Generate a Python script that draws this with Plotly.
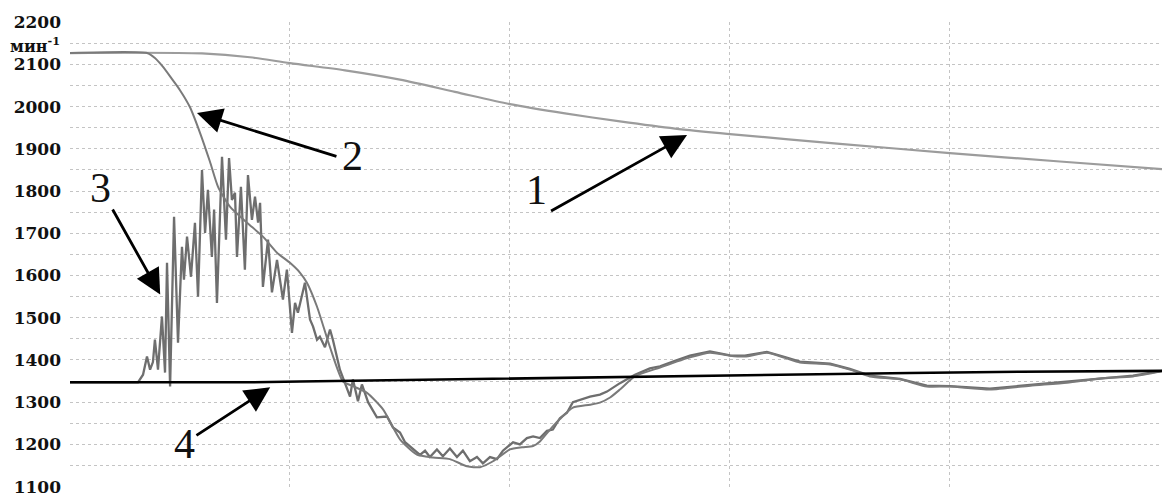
import plotly.graph_objects as go

# Time axis in seconds, speed in min^-1
# Curve 1
t1 = [0.000, 0.600, 0.818, 1.000, 1.250, 1.500, 1.750, 2.000, 2.250, 2.500,
      2.750, 3.000, 3.500, 4.000, 4.500, 4.964]
n1 = [2127, 2126, 2117, 2103, 2086, 2064, 2035, 2006, 1984, 1965,
      1948, 1935, 1912, 1890, 1870, 1852]

# Curve 2
t2 = [0.000, 0.350, 0.386, 0.423, 0.464, 0.500, 0.545, 0.591, 0.636, 0.673,
      0.727, 0.805, 0.877, 0.941, 1.000, 1.045, 1.077, 1.123, 1.182, 1.241,
      1.286, 1.350, 1.423, 1.500, 1.577, 1.650, 1.727, 1.805, 1.864, 1.923,
      2.000, 2.055, 2.105, 2.136, 2.182, 2.227, 2.286, 2.364, 2.409, 2.455,
      2.500, 2.568, 2.682, 2.818, 2.909, 3.000, 3.068, 3.168, 3.250, 3.318,
      3.455, 3.545, 3.636, 3.773, 3.895, 4.000, 4.182, 4.364, 4.532, 4.682,
      4.832, 4.964]
n2 = [2127, 2127, 2115, 2094, 2065, 2039, 1999, 1938, 1870, 1810,
      1763, 1725, 1692, 1654, 1630, 1607, 1583, 1526, 1430, 1349,
      1338, 1322, 1283, 1212, 1176, 1169, 1165, 1148, 1146, 1160,
      1188, 1193, 1196, 1207, 1235, 1260, 1287, 1294, 1299, 1311,
      1330, 1361, 1382, 1406, 1417, 1410, 1408, 1417, 1405, 1394,
      1389, 1377, 1361, 1354, 1337, 1337, 1330, 1339, 1346, 1356,
      1361, 1373]

# Curve 3 (measured, oscillating)
t3 = [0.000, 0.309, 0.332, 0.350, 0.364, 0.377, 0.386, 0.400, 0.418, 0.432,
      0.441, 0.455, 0.473, 0.491, 0.509, 0.518, 0.532, 0.550, 0.568, 0.582,
      0.600, 0.614, 0.627, 0.645, 0.655, 0.668, 0.691, 0.709, 0.723, 0.736,
      0.750, 0.759, 0.777, 0.795, 0.809, 0.827, 0.841, 0.855, 0.864, 0.877,
      0.900, 0.918, 0.941, 0.968, 0.986, 1.009, 1.023, 1.036, 1.068, 1.091,
      1.105, 1.123, 1.136, 1.159, 1.182, 1.195, 1.227, 1.273, 1.286, 1.309,
      1.327, 1.355, 1.395, 1.441, 1.468, 1.500, 1.523, 1.555, 1.591, 1.614,
      1.636, 1.668, 1.695, 1.727, 1.759, 1.786, 1.818, 1.850, 1.877, 1.909,
      1.941, 1.968, 2.014, 2.045, 2.077, 2.105, 2.136, 2.168, 2.195, 2.227,
      2.259, 2.286, 2.318, 2.364, 2.409, 2.441, 2.500, 2.568, 2.636, 2.682,
      2.750, 2.818, 2.909, 3.000, 3.068, 3.168, 3.250, 3.318, 3.455, 3.545,
      3.636, 3.773, 3.895, 4.000, 4.182, 4.364, 4.532, 4.682, 4.832, 4.964]
n3 = [1347, 1347, 1365, 1408, 1377, 1395, 1448, 1377, 1503, 1370,
      1630, 1337, 1739, 1441, 1668, 1590, 1692, 1597, 1725, 1550,
      1850, 1701, 1803, 1644, 1756, 1535, 1881, 1685, 1878, 1779,
      1796, 1644, 1810, 1614, 1838, 1732, 1787, 1725, 1772, 1573,
      1685, 1560, 1637, 1543, 1614, 1464, 1535, 1512, 1583, 1496,
      1479, 1448, 1455, 1430, 1472, 1448, 1377, 1313, 1354, 1302,
      1342, 1300, 1264, 1266, 1240, 1228, 1205, 1190, 1175, 1185,
      1170, 1188, 1172, 1190, 1170, 1185, 1160, 1170, 1155, 1170,
      1165, 1185, 1205, 1200, 1215, 1219, 1215, 1232, 1235, 1262,
      1275, 1300, 1305, 1313, 1318, 1325, 1345, 1365, 1380, 1385,
      1398, 1410, 1420, 1411, 1410, 1419, 1407, 1396, 1391, 1379,
      1363, 1355, 1339, 1338, 1332, 1341, 1348, 1357, 1363, 1374]

# Curve 4
t4 = [0.000, 0.818, 1.045, 1.455, 1.727, 2.159, 2.864, 3.364, 3.818, 4.318, 4.964]
n4 = [1347, 1347, 1349, 1352, 1355, 1358, 1362, 1366, 1369, 1372, 1374]

y_ticks = [1100, 1200, 1300, 1400, 1500, 1600, 1700, 1800, 1900, 2000, 2100, 2200]
unit_label = "мин<sup>-1</sup>"

# Curve labels: (text, label pos, arrow tail, arrow tip)
callouts = [
    ("1", (2.12, 1803), (2.18, 1751), (2.805, 1933)),
    ("2", (1.285, 1884), (1.218, 1881), (0.577, 1985)),
    ("3", (0.14, 1808), (0.19, 1760), (0.41, 1555)),
    ("4", (0.52, 1200), (0.568, 1219), (0.91, 1335)),
]

fig = go.Figure()
fig.add_trace(go.Scatter(x=t1, y=n1, mode="lines",
                         line=dict(color="#9c9c9c", width=2.2, shape="spline", smoothing=0.8)))
fig.add_trace(go.Scatter(x=t3, y=n3, mode="lines",
                         line=dict(color="#6e6e6e", width=2.3)))
fig.add_trace(go.Scatter(x=t2, y=n2, mode="lines",
                         line=dict(color="#7a7a7a", width=2.0, shape="spline", smoothing=0.6)))
fig.add_trace(go.Scatter(x=t4, y=n4, mode="lines",
                         line=dict(color="#000000", width=2.6)))

annotations = []
for text, (lx, ly), (ax, ay), (tx, ty) in callouts:
    annotations.append(dict(x=tx, y=ty, ax=ax, ay=ay, xref="x", yref="y",
                            axref="x", ayref="y", text="", showarrow=True,
                            arrowhead=2, arrowsize=1.8, arrowwidth=2.8,
                            arrowcolor="#000000", standoff=0))
    annotations.append(dict(x=lx, y=ly, xref="x", yref="y", text=text,
                            showarrow=False,
                            font=dict(family="Liberation Serif", size=42, color="#111111")))

annotations.append(dict(x=-0.057, y=2147, xref="paper", yref="y", text=unit_label,
                        showarrow=False, xanchor="left", yanchor="middle",
                        font=dict(family="DejaVu Serif", size=16, color="#111111",
                                  weight="bold")))

grid_color = "#c4c4c4"
fig.update_layout(
    width=1162, height=496,
    margin=dict(l=70, r=0, t=22, b=9),
    paper_bgcolor="white", plot_bgcolor="white",
    showlegend=False,
    annotations=annotations,
    xaxis=dict(range=[0, 4.964], tickvals=[1, 2, 3, 4], showticklabels=False,
               showgrid=True, gridcolor=grid_color, griddash="3px,3px", gridwidth=1,
               zeroline=False, showline=False, ticks=""),
    yaxis=dict(range=[1099, 2200.5], tickvals=y_ticks, ticklabeloverflow="allow",
               showgrid=True, gridcolor=grid_color, griddash="3px,3px", gridwidth=1,
               minor=dict(tickvals=[1150, 1250, 1350, 1450, 1550, 1650, 1750,
                                    1850, 1950, 2050, 2150],
                          showgrid=True, gridcolor=grid_color,
                          griddash="3px,3px", gridwidth=1),
               zeroline=False, showline=False, ticks="", ticklabelstandoff=8,
               tickfont=dict(family="DejaVu Serif", size=17, color="#111111",
                             weight="bold")),
)

fig.write_html("out.html")
